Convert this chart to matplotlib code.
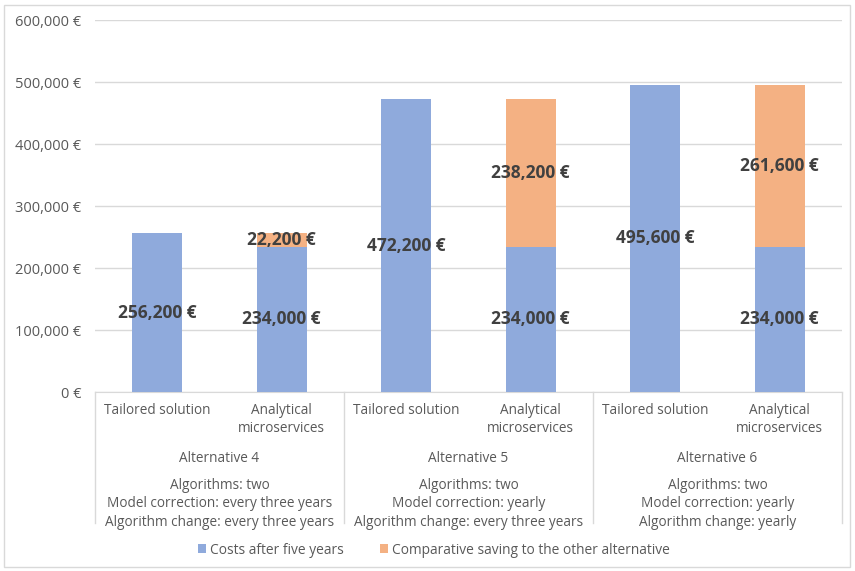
import matplotlib
matplotlib.use("Agg")
import matplotlib.pyplot as plt
from matplotlib.patches import Rectangle
from matplotlib.lines import Line2D

plt.rcParams['font.family'] = ['Open Sans', 'DejaVu Sans']

# Data
alternatives = ["Alternative 4", "Alternative 5", "Alternative 6"]
solutions = ["Tailored solution", "Analytical\nmicroservices"]
conditions = [
    "Algorithms: two\nModel correction: every three years\nAlgorithm change: every three years",
    "Algorithms: two\nModel correction: yearly\nAlgorithm change: every three years",
    "Algorithms: two\nModel correction: yearly\nAlgorithm change: yearly",
]
costs = [256200, 234000, 472200, 234000, 495600, 234000]
savings = [0, 22200, 0, 238200, 0, 261600]
series_names = ["Costs after five years", "Comparative saving to the other alternative"]
yticks = [0, 100000, 200000, 300000, 400000, 500000, 600000]

BLUE = "#8FAADC"
ORANGE = "#F4B183"
TXT = "#595959"
LBL = "#404040"
GRID = "#D9D9D9"

W, H = 855, 571
fig = plt.figure(figsize=(W / 100, H / 100), dpi=100)

# chart border
fig.patches.append(Rectangle((4 / W, 4 / H), (W - 9) / W, (H - 9) / H,
                             transform=fig.transFigure, fill=False,
                             edgecolor=GRID, linewidth=1))

top_px, bot_px, left_px, right_px = 20, 392, 95, 842
ax = fig.add_axes([left_px / W, (H - bot_px) / H,
                   (right_px - left_px) / W, (bot_px - top_px) / H])

x = list(range(len(costs)))
ax.bar(x, costs, width=0.4, color=BLUE, zorder=3, label=series_names[0])
ax.bar(x, savings, width=0.4, bottom=costs, color=ORANGE, zorder=3,
       label=series_names[1])

# value labels centred in each segment
for xi, c, s in zip(x, costs, savings):
    ax.text(xi, c / 2, f"{c:,.0f} €", ha="center", va="center",
            fontsize=12.5, fontweight="bold", color=LBL, zorder=5)
    if s:
        ax.text(xi, c + s / 2, f"{s:,.0f} €", ha="center", va="center",
                fontsize=12.5, fontweight="bold", color=LBL, zorder=5)

ax.set_xlim(-0.5, len(costs) - 0.5)
ax.set_ylim(0, 600000)
ax.set_yticks(yticks)
ax.set_yticklabels([f"{v:,.0f} €" for v in yticks])
ax.tick_params(axis="y", length=0, labelsize=10.5, labelcolor=TXT, pad=10)
ax.set_xticks([])
ax.grid(axis="y", color=GRID, linewidth=1, zorder=0)
for sp in ["left", "right", "top"]:
    ax.spines[sp].set_visible(False)
ax.spines["bottom"].set_color(GRID)

# multi-level category axis
tr = ax.get_xaxis_transform()
span = bot_px - top_px


def yfrac(py):
    return (bot_px - py) / span


for b in [-0.5, 1.5, 3.5, 5.5]:
    ax.add_line(Line2D([b, b], [0, yfrac(523)], transform=tr, color=GRID,
                       linewidth=1, clip_on=False))

for g, (alt, cond) in enumerate(zip(alternatives, conditions)):
    for k, sol in enumerate(solutions):
        ax.text(2 * g + k, yfrac(403), sol, transform=tr, ha="center",
                va="top", fontsize=9.8, color=TXT, linespacing=1.3)
    ax.text(2 * g + 0.5, yfrac(459), alt, transform=tr, ha="center",
            va="center", fontsize=9.8, color=TXT)
    ax.text(2 * g + 0.5, yfrac(478), cond, transform=tr, ha="center",
            va="top", fontsize=9.8, color=TXT, linespacing=1.3)

leg = fig.legend(loc="center", bbox_to_anchor=(434 / W, (H - 550) / H),
                 ncol=2, frameon=False, fontsize=9.9, handlelength=0.6,
                 handleheight=0.6, handletextpad=0.3, columnspacing=2.6,
                 labelcolor=TXT)

fig.savefig("out.png", dpi=100)
